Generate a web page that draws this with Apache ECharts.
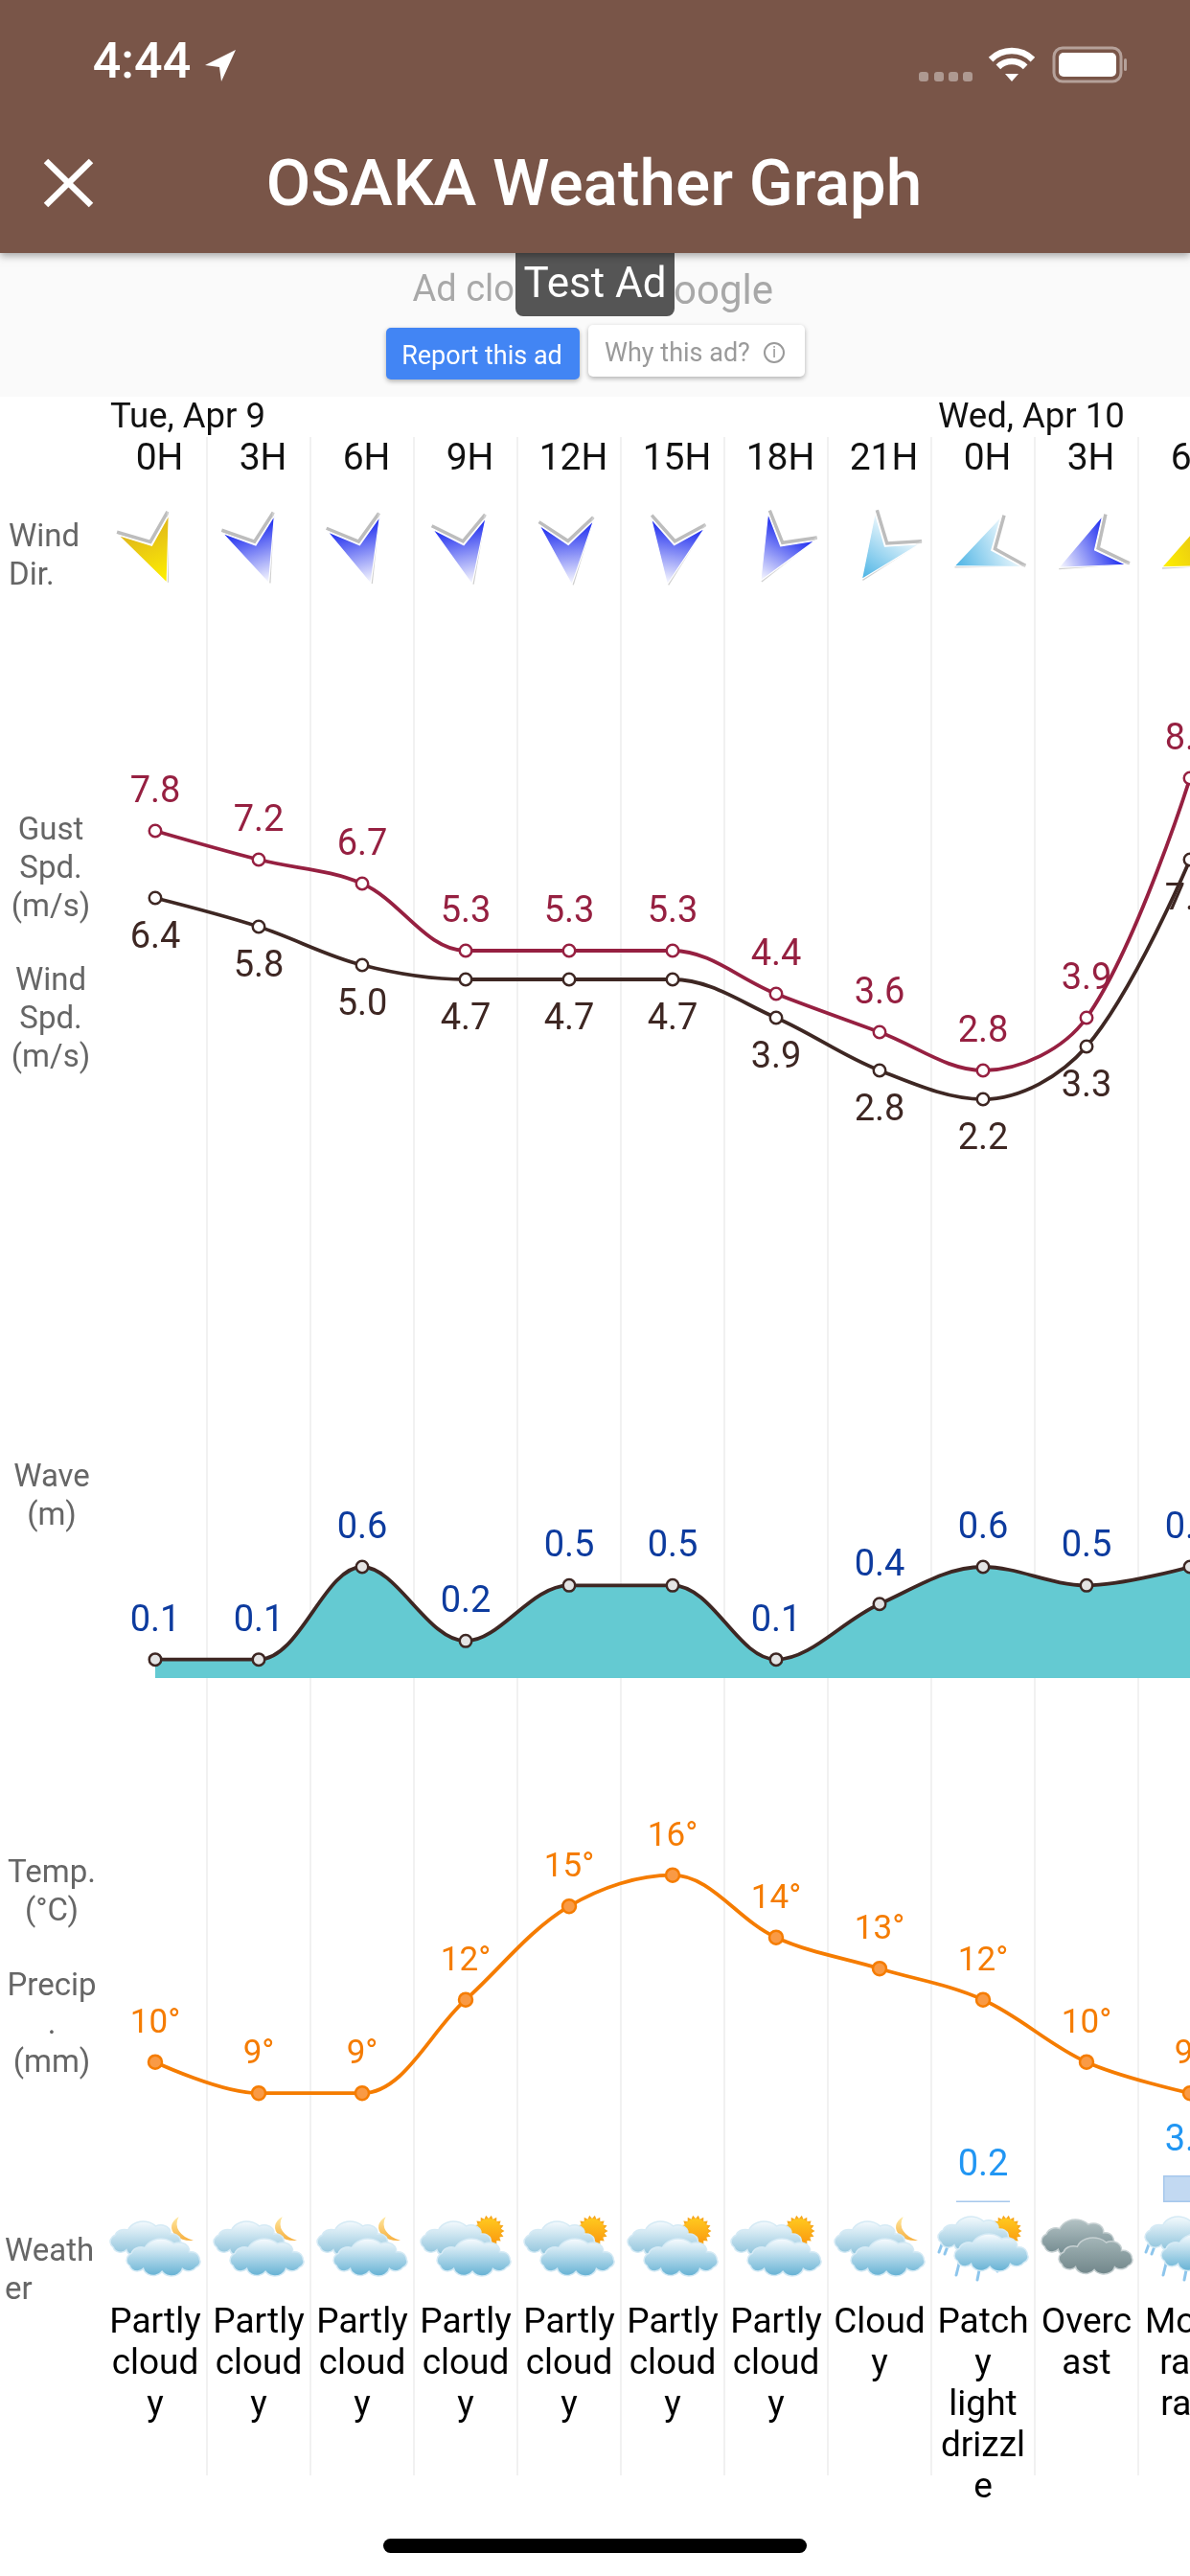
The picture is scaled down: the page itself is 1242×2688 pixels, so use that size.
<!DOCTYPE html>
<html>
<head>
<meta charset="utf-8">
<title>OSAKA Weather Graph</title>
<style>html,body{margin:0;padding:0;background:#fff}#chart{width:1242px;height:2688px}</style>
<script src="https://cdn.jsdelivr.net/npm/echarts@6/dist/echarts.min.js"></script>
</head>
<body>
<div id="chart"></div>
<script>
// Forecast columns, three hours apart
const hours = ['0H','3H','6H','9H','12H','15H','18H','21H','0H','3H','6H'];
const dayLabels = [[0,'Tue, Apr 9'],[8,'Wed, Apr 10']];
const windHeading = [158,161,164,168,175,190,210,215,247,244,245];
const windBand = ['yellow','blue','blue','blue','blue','blue','blue','pale','pale','blue','yellow'];
const gustSpeed = [7.8,7.2,6.7,5.3,5.3,5.3,4.4,3.6,2.8,3.9,8.9];
const windSpeed = [6.4,5.8,5.0,4.7,4.7,4.7,3.9,2.8,2.2,3.3,7.2];
const waveHeight = [0.1,0.1,0.6,0.2,0.5,0.5,0.1,0.4,0.6,0.5,0.6];
const temperature = [10,9,9,12,15,16,14,13,12,10,9];
const precipitation = [null,null,null,null,null,null,null,null,0.2,null,3.5];
const weatherIcon = ['moon','moon','moon','sun','sun','sun','sun','moon','drizzle','overcast','rain'];
const weatherText = ['Partly\ncloud\ny','Partly\ncloud\ny','Partly\ncloud\ny','Partly\ncloud\ny','Partly\ncloud\ny','Partly\ncloud\ny','Partly\ncloud\ny','Cloud\ny','Patch\ny\nlight\ndrizzl\ne','Overc\nast','Mode\nrate\nrain'];

const FONT = 'Roboto';
const chart = echarts.init(document.getElementById('chart'), null, {width:1242, height:2688, renderer:'canvas'});

const vgrad = (a, b) => ({type:'linear', x:0, y:0, x2:0, y2:1, colorStops:[{offset:0,color:a},{offset:1,color:b}]});

// One panel per row; the columns are 108px wide and run past the right edge
const panel = (top, height) => ({left:108, width:1188, top, height, containLabel:false, show:false, outerBoundsMode:'none'});
const grids = [
  panel(456, 2127),   // column rules and hour labels
  panel(540, 76),     // wind direction
  panel(757, 500),    // wind and gust speed
  panel(1557.7, 193.3), // waves
  panel(1826.7, 487.5), // temperature
  panel(2218, 80),    // precipitation
  panel(2310, 80)     // weather icons and captions
];
const xAxes = grids.map((g, i) => ({type:'category', gridIndex:i, data:hours, show:false, boundaryGap:true}));
xAxes[0] = {
  type:'category', gridIndex:0, data:hours, position:'top', boundaryGap:true,
  axisLine:{show:false}, axisTick:{show:false},
  axisLabel:{inside:true, interval:0, margin:5, padding:[0,0,0,9], fontFamily:FONT, fontSize:39, color:'#111', hideOverlap:false},
  splitLine:{show:true, showMinLine:false, interval:0, lineStyle:{color:'#ececec', width:1.5}}
};
xAxes[6] = {
  type:'category', gridIndex:6, data:weatherText, position:'bottom', boundaryGap:true,
  axisLine:{show:false}, axisTick:{show:false},
  axisLabel:{interval:0, margin:13, fontFamily:FONT, fontSize:37, lineHeight:43, color:'#000', hideOverlap:false, verticalAlign:'top'}
};
const yRange = [[0,1],[0,1],[0,10],[0,1],[5,20],[0,10],[0,1]];
const yAxes = yRange.map((r, i) => ({type:'value', gridIndex:i, show:false, min:r[0], max:r[1]}));

// Wind arrow, tip pointing down before rotation
const ARROW = [[-28.5,-32.5],[0,-9.5],[28.5,-32.5],[0,32.5]];
const BAND_FILL = {
  yellow:['#dfb51c','#fff200'],
  blue:['#1423ee','#ffffff'],
  pale:['#eef8fd','#48b2e4']
};
function renderArrow(params, api) {
  const c = api.coord([api.value(0), 0.5]);
  const fill = BAND_FILL[windBand[params.dataIndex]];
  return {
    type:'group', x:c[0], y:c[1],
    rotation:(180 - api.value(1)) * Math.PI / 180,
    children:[
      {type:'polyline', shape:{points:[[-28.5,-36],[0,-13.5],[28.5,-36]]}, style:{stroke:'#bdbdbd', lineWidth:3.5, fill:null}},
      {type:'polyline', shape:{points:[[28.5,-36],[1,32.5]]}, style:{stroke:'#cfcfcf', lineWidth:2, fill:null}},
      {type:'polygon', shape:{points:ARROW}, style:{fill:vgrad(fill[0], fill[1]), stroke:'#ffffff', lineWidth:1.2}}
    ]
  };
}

// Weather glyphs are built from a scalloped cloud outline: a dome with a low tail on the right
const CLOUD = 'M10 44 A11 11 0 0 1 12 26 A12 12 0 0 1 28 18 A20 20 0 0 1 62 12 A12 12 0 0 1 80 24 A10 10 0 0 1 92 34 A9 9 0 0 1 88 46 A10 10 0 0 1 72 48 A13 13 0 0 1 48 52 A12 12 0 0 1 26 48 A9 9 0 0 1 10 44 Z';
const MOON = 'M12 0 A13.5 13.5 0 0 0 22 24 A18 18 0 0 1 12 0 Z';
const cloud = (x, y, w, h, a, b, edge) => ({
  type:'path', shape:{pathData:CLOUD, x, y, width:w, height:h, layout:'cover'},
  style:{fill:vgrad(a, b), stroke:edge || '#d5eaf5', lineWidth:1.5}
});
function sunRays(r1, r2, n) {
  const pts = [];
  for (let k = 0; k < n * 2; k++) {
    const a = k * Math.PI / n, r = k % 2 ? r1 : r2;
    pts.push([r * Math.cos(a), r * Math.sin(a)]);
  }
  return pts;
}
function rainStreaks() {
  const seg = [[-46,0,-40,-16],[-40,2,-34,-14],[-28,24,-24,8],[-6,29,-3,14],[15,20,18,6]];
  return seg.map(s => ({type:'line', shape:{x1:s[0], y1:s[1], x2:s[2], y2:s[3]}, style:{stroke:'#8ec6ec', lineWidth:3, lineCap:'round'}}));
}
function renderWeather(params, api) {
  const c = api.coord([api.value(0), 0.5]);
  const kind = weatherIcon[params.dataIndex];
  const kids = [];
  const lift = (kind === 'drizzle' || kind === 'rain') ? -5 : 0;
  if (kind === 'moon') {
    kids.push({type:'path', shape:{pathData:MOON, x:17, y:-37, width:23, height:25, layout:'cover'},
      style:{fill:vgrad('#ffe8a0','#f7b040')}});
  }
  if (kind === 'sun' || kind === 'drizzle') {
    kids.push({type:'group', x:24, y:-22, children:[
      {type:'polygon', shape:{points:sunRays(13,16.5,18)}, style:{fill:'#f7a81c'}},
      {type:'circle', shape:{cx:0, cy:0, r:13}, style:{fill:vgrad('#ffc81e','#fb9a10')}}
    ]});
  }
  if (kind === 'drizzle' || kind === 'rain') kids.push(...rainStreaks());
  if (kind === 'overcast') {
    kids.push(cloud(-47, -34, 76, 39, '#b4c3c5', '#6e868b', '#c6d0d2'));
    kids.push(cloud(-29, -15, 77, 38, '#a4b6b8', '#708589', '#c6d0d2'));
  } else {
    kids.push(cloud(-47, -32 + lift, 74, 37, '#f6fbfe', '#86bfd9'));
    kids.push(cloud(-30, -14 + lift, 77, 39, '#fbfdff', '#62b0d3'));
  }
  return {type:'group', x:c[0], y:c[1], children:kids};
}
function renderDay(params, api) {
  const c = api.coord([api.value(0), 0]);
  return {type:'text', x:c[0] - 47, y:437, style:{text:dayLabels[params.dataIndex][1], font:'36.5px '+FONT, fill:'#111', textAlign:'left', textVerticalAlign:'middle'}};
}

const valueLabel = (position, distance, color, formatter, size) => ({
  show:true, position, distance, color, formatter, fontFamily:FONT, fontSize:size || 38
});
const curve = (name, idx, data, lineColor, symbolFill, symbolBorder, label, extra) => Object.assign({
  name, type:'line', xAxisIndex:idx, yAxisIndex:idx, data,
  smooth:0.35, clip:false,
  lineStyle:{color:lineColor, width:3.8},
  symbol:'circle', symbolSize:12.5, showSymbol:true,
  itemStyle:{color:symbolFill, borderColor:symbolBorder, borderWidth:2.5},
  label
}, extra || {});

const series = [
  {type:'custom', xAxisIndex:0, yAxisIndex:0, data:dayLabels.map(d => [d[0]]), renderItem:renderDay, encode:{x:0}},
  {type:'custom', name:'Wind Dir.', xAxisIndex:1, yAxisIndex:1, data:windHeading.map((h, i) => [i, h]), renderItem:renderArrow, encode:{x:0}, clip:false},
  curve('Gust Spd.', 2, gustSpeed, '#962041', '#ffffff', '#962041', valueLabel('top', 13, '#962041', p => p.value.toFixed(1))),
  curve('Wind Spd.', 2, windSpeed, '#3e2723', '#ffffff', '#3e2723', valueLabel('bottom', 16, '#3e2723', p => p.value.toFixed(1))),
  curve('Wave', 3, waveHeight, '#3e2723', '#e4e4e4', '#3e2723', valueLabel('top', 13, '#0d3b9e', p => p.value.toFixed(1)),
    {areaStyle:{color:'#64cad2', opacity:1, origin:'start'}}),
  curve('Temp.', 4, temperature, '#f57c00', '#f99a45', '#f57c00', valueLabel('top', 14, '#f57c00', p => p.value + '°', 35), {symbolSize:14}),
  {name:'Precip.', type:'bar', xAxisIndex:5, yAxisIndex:5, data:precipitation, barWidth:56,
    itemStyle:{color:'rgba(144,185,232,0.55)', borderColor:'#a6c7ec', borderWidth:1.5},
    label:{show:true, position:'top', distance:17, color:'#2196f3', fontFamily:FONT, fontSize:38, formatter:p => p.value.toFixed(1)}},
  {type:'custom', name:'Weather', xAxisIndex:6, yAxisIndex:6, data:weatherIcon.map((w, i) => [i]), renderItem:renderWeather, encode:{x:0}, clip:false}
];

// App bar, status bar, ad strip and row captions
const txt = (text, x, y, font, fill, align, extra) => ({
  type:'text', x, y, silent:true, z:extra && extra.z || 5,
  style:Object.assign({text, font:font+' '+FONT, fill, align:align||'center', verticalAlign:'middle'}, extra && extra.style)
});
const rowCaption = (lines, x, y, align) => txt(lines.join('\n'), x, y, '33px', '#666', align, {style:{lineHeight:40}});
const wifiArc = (r, w) => ({type:'arc', x:1056, y:84, shape:{cx:0, cy:0, r, startAngle:-Math.PI*0.75, endAngle:-Math.PI*0.25}, style:{stroke:'#fff', lineWidth:w, fill:null}, z:6});

const chrome = [
  {type:'rect', shape:{x:0, y:264, width:1242, height:150}, style:{fill:'#fafafa'}, z:1},
  {type:'rect', shape:{x:0, y:0, width:1242, height:264}, style:{fill:'#795548', shadowBlur:8, shadowColor:'rgba(0,0,0,0.35)', shadowOffsetY:3}, z:4},
  txt('4:44', 148, 68, '500 52px', '#fff'),
  {type:'polygon', shape:{points:[[246,52],[214,68],[229,70],[231,85]]}, style:{fill:'#fff'}, z:6},
  ...[964,980,995,1010].map(x => ({type:'rect', shape:{x:x-5, y:75, width:10, height:10, r:3}, style:{fill:'rgba(255,255,255,0.4)'}, z:6})),
  wifiArc(31, 6.5), wifiArc(20, 6.5),
  {type:'polygon', shape:{points:[[1049,77],[1063,77],[1056,85]]}, style:{fill:'#fff'}, z:6},
  {type:'rect', shape:{x:1100, y:50, width:70, height:35, r:9}, style:{fill:null, stroke:'rgba(255,255,255,0.45)', lineWidth:3}, z:6},
  {type:'rect', shape:{x:1105, y:55, width:60, height:25, r:5}, style:{fill:'#fff'}, z:6},
  {type:'rect', shape:{x:1173, y:61, width:3, height:13, r:1.5}, style:{fill:'rgba(255,255,255,0.45)'}, z:6},
  {type:'line', shape:{x1:48, y1:168, x2:95, y2:214}, style:{stroke:'#fff', lineWidth:6.5}, z:6},
  {type:'line', shape:{x1:95, y1:168, x2:48, y2:214}, style:{stroke:'#fff', lineWidth:6.5}, z:6},
  txt('OSAKA Weather Graph', 620, 197, '500 67.5px', '#fff'),
  txt('Ad clo', 537, 304, '38px', '#a8a8a8', 'right', {z:2}),
  txt('oogle', 703, 306, '42px', '#a8a8a8', 'left', {z:2}),
  {type:'rect', shape:{x:538, y:264, width:166, height:66, r:[0,0,8,8]}, style:{fill:'#555555'}, z:3},
  txt('Test Ad', 621, 299, '44px', '#fff', 'center', {z:3}),
  {type:'rect', shape:{x:403, y:342, width:202, height:54, r:5}, style:{fill:'#4285f4', shadowBlur:5, shadowColor:'rgba(0,0,0,0.3)', shadowOffsetY:2}, z:2},
  txt('Report this ad', 503, 373, '27px', '#fff', 'center', {z:3}),
  {type:'rect', shape:{x:614, y:339, width:226, height:54, r:5}, style:{fill:'#fff', shadowBlur:5, shadowColor:'rgba(0,0,0,0.3)', shadowOffsetY:2}, z:2},
  txt('Why this ad?', 631, 370, '27px', '#9a9a9a', 'left', {z:3}),
  {type:'circle', shape:{cx:808, cy:368, r:10}, style:{fill:null, stroke:'#9a9a9a', lineWidth:2}, z:3},
  txt('i', 808, 369, '17px', '#9a9a9a', 'center', {z:3}),
  rowCaption(['Wind','Dir.'], 9, 582, 'left'),
  rowCaption(['Gust','Spd.','(m/s)'], 53, 908),
  rowCaption(['Wind','Spd.','(m/s)'], 53, 1065),
  rowCaption(['Wave','(m)'], 54, 1563),
  rowCaption(['Temp.','(°C)'], 54, 1976),
  rowCaption(['Precip','.','(mm)'], 54, 2114),
  rowCaption(['Weath','er'], 5, 2371, 'left'),
  {type:'rect', shape:{x:400, y:2649, width:442, height:15, r:7.5}, style:{fill:'#000'}, z:6}
];

chart.setOption({
  animation:false,
  backgroundColor:'#ffffff',
  textStyle:{fontFamily:FONT},
  grid:grids, xAxis:xAxes, yAxis:yAxes, series,
  graphic:{elements:chrome}
});
</script>
</body>
</html>
